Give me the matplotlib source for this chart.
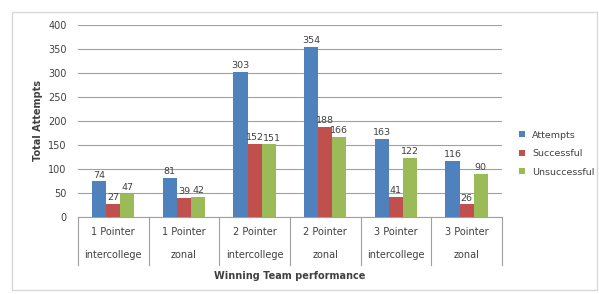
import numpy as np
import matplotlib.pyplot as plt
from matplotlib.patches import Rectangle

# data
line1 = ['1 Pointer', '1 Pointer', '2 Pointer', '2 Pointer', '3 Pointer', '3 Pointer']
line2 = ['intercollege', 'zonal', 'intercollege', 'zonal', 'intercollege', 'zonal']
attempts = [74, 81, 303, 354, 163, 116]
successful = [27, 39, 152, 188, 41, 26]
unsuccessful = [47, 42, 151, 166, 122, 90]

series = [('Attempts', attempts, '#4F81BD'),
          ('Successful', successful, '#C0504D'),
          ('Unsuccessful', unsuccessful, '#9BBB59')]

fig = plt.figure(figsize=(5.99, 2.94), dpi=100)
fig.patches.append(Rectangle((12 / 599, 4 / 294), 585 / 599, 278 / 294,
                             transform=fig.transFigure, fill=False,
                             edgecolor='#d9d9d9', lw=1))
ax = fig.add_axes([0.130, 0.262, 0.708, 0.653])

x = np.arange(len(attempts))
w = 0.2
for i, (name, vals, col) in enumerate(series):
    bars = ax.bar(x + (i - 1) * w, vals, w, color=col, label=name, zorder=3)
    for b, v in zip(bars, vals):
        # nudge the close pair apart a little
        dx = 0.04 if (name == 'Unsuccessful' and v == 151) else 0
        ax.text(b.get_x() + b.get_width() / 2 + dx, v + 4, str(v), ha='center',
                va='bottom', fontsize=6.8, color='#404040', zorder=4)

ax.set_ylim(0, 400)
ax.set_xlim(-0.5, len(attempts) - 0.5)
ax.set_yticks(range(0, 401, 50))
ax.tick_params(axis='y', labelsize=7, colors='#404040', length=0, pad=8)
ax.set_xticks([])
ax.grid(axis='y', color='#a0a0a0', lw=0.8, zorder=0)
for s in ['top', 'right', 'left']:
    ax.spines[s].set_visible(False)
ax.spines['bottom'].set_color('#a0a0a0')

# category table below axis
trans = ax.get_xaxis_transform()
for k in range(len(attempts) + 1):
    ax.plot([k - 0.5, k - 0.5], [0, -0.25], transform=trans, color='#a0a0a0',
            lw=0.8, clip_on=False)
for k in range(len(attempts)):
    ax.text(k, -0.08, line1[k], transform=trans, ha='center', va='center',
            fontsize=7, color='#404040')
    ax.text(k, -0.20, line2[k], transform=trans, ha='center', va='center',
            fontsize=7, color='#404040')

ax.text(0.5, -0.31, 'Winning Team performance', transform=ax.transAxes,
        ha='center', va='center', fontsize=7, fontweight='bold', color='#404040')
ax.set_ylabel('Total Attempts', fontsize=7, fontweight='bold', color='#404040')

ax.legend(loc='center left', bbox_to_anchor=(1.02, 0.33), frameon=False,
          fontsize=6.8, handlelength=0.6, handleheight=0.6, labelspacing=1.0,
          labelcolor='#404040')

fig.savefig('out.png', dpi=100)
